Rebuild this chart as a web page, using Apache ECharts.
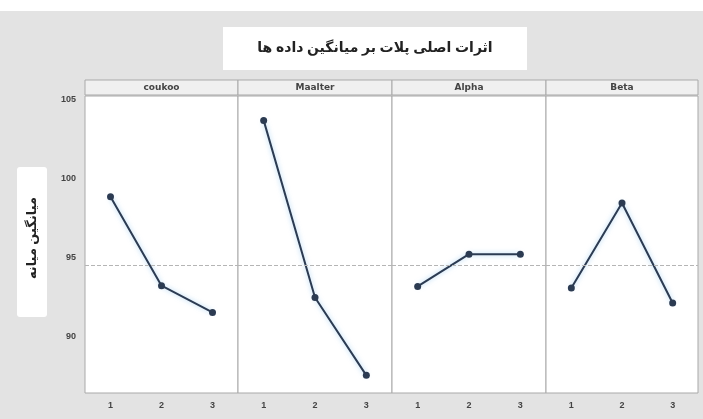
<!DOCTYPE html>
<html>
<head>
<meta charset="utf-8">
<script src="https://cdn.jsdelivr.net/npm/echarts@6/dist/echarts.min.js"></script>
<style>
html, body { margin: 0; padding: 0; background: #fff; }
#main { width: 703px; height: 419px; }
</style>
</head>
<body>
<div id="main"></div>
<script>
// داده ها
var factors = ['coukoo', 'Maalter', 'Alpha', 'Beta'];
var levels = ['1', '2', '3'];
var coukoo = [98.85, 93.2, 91.5];
var maalter = [103.7, 92.45, 87.5];
var alpha = [93.15, 95.2, 95.2];
var beta = [93.05, 98.45, 92.1];
var yTicks = [90, 95, 100, 105];
var grandMean = 94.5;

var allSeries = [coukoo, maalter, alpha, beta];
var lefts = [85, 238, 392, 546];
var widths = [153, 154, 154, 152];

var myChart = echarts.init(document.getElementById('main'));

var grids = [], xAxes = [], yAxes = [], series = [], strips = [];
for (var i = 0; i < factors.length; i++) {
    grids.push({
        left: lefts[i], width: widths[i], top: 96, bottom: 26,
        show: true, backgroundColor: '#ffffff', borderColor: '#a9a9a9', borderWidth: 1
    });
    xAxes.push({
        type: 'category', gridIndex: i, data: levels, boundaryGap: true,
        axisLine: { show: false },
        axisTick: { show: false },
        axisLabel: { color: '#444', fontSize: 9, fontWeight: 'bold', margin: 8 },
        splitLine: { show: false }
    });
    yAxes.push({
        type: 'value', gridIndex: i, min: 86.38, max: 105.25,
        axisLine: { show: false },
        axisTick: { show: false },
        splitLine: { show: false },
        axisLabel: {
            show: i === 0, color: '#444', fontSize: 9, fontWeight: 'bold', margin: 9,
            customValues: yTicks
        }
    });
    series.push({
        type: 'line', xAxisIndex: i, yAxisIndex: i, data: allSeries[i],
        symbol: 'circle', symbolSize: 7,
        lineStyle: { color: '#2c3b52', width: 2, shadowColor: 'rgba(110,180,235,0.6)', shadowBlur: 5 },
        itemStyle: { color: '#2c3b52' },
        markLine: {
            silent: true, symbol: 'none', label: { show: false },
            lineStyle: { color: '#b5b5b5', type: 'dashed', width: 1 },
            data: [{ yAxis: grandMean }]
        },
        z: 3
    });
    // نوار عنوان هر پنل
    strips.push({
        type: 'rect',
        shape: { x: lefts[i], y: 80, width: widths[i], height: 15 },
        style: { fill: '#f0f0f0', stroke: '#a9a9a9', lineWidth: 1 },
        z: 10
    });
    strips.push({
        type: 'text',
        x: lefts[i] + widths[i] / 2, y: 87.5,
        style: { text: factors[i], fill: '#444', font: 'bold 9px "DejaVu Sans"', textAlign: 'center', textVerticalAlign: 'middle' },
        z: 11
    });
}

var graphics = [
    { type: 'rect', shape: { x: 0, y: 0, width: 703, height: 11 }, style: { fill: '#ffffff' }, z: -10 },
    { type: 'rect', shape: { x: 223, y: 27, width: 304, height: 43 }, style: { fill: '#ffffff' }, z: 5 },
    {
        type: 'text', x: 375, y: 48.5, z: 6,
        style: { text: 'اثرات اصلی پلات بر میانگین داده ها', fill: '#222', font: 'bold 14px "Noto Sans", "DejaVu Sans"', textAlign: 'center', textVerticalAlign: 'middle' }
    },
    { type: 'rect', shape: { x: 17, y: 167, width: 30, height: 150, r: 3 }, style: { fill: '#ffffff' }, z: 5 },
    {
        type: 'text', x: 32, y: 238, rotation: Math.PI / 2, z: 6,
        style: { text: 'میانگین میانه', fill: '#222', font: 'bold 13px "Noto Sans", "DejaVu Sans"', textAlign: 'center', textVerticalAlign: 'middle' }
    }
].concat(strips);

myChart.setOption({
    backgroundColor: '#e3e3e3',
    animation: false,
    grid: grids,
    xAxis: xAxes,
    yAxis: yAxes,
    series: series,
    graphic: graphics
});
</script>
</body>
</html>
